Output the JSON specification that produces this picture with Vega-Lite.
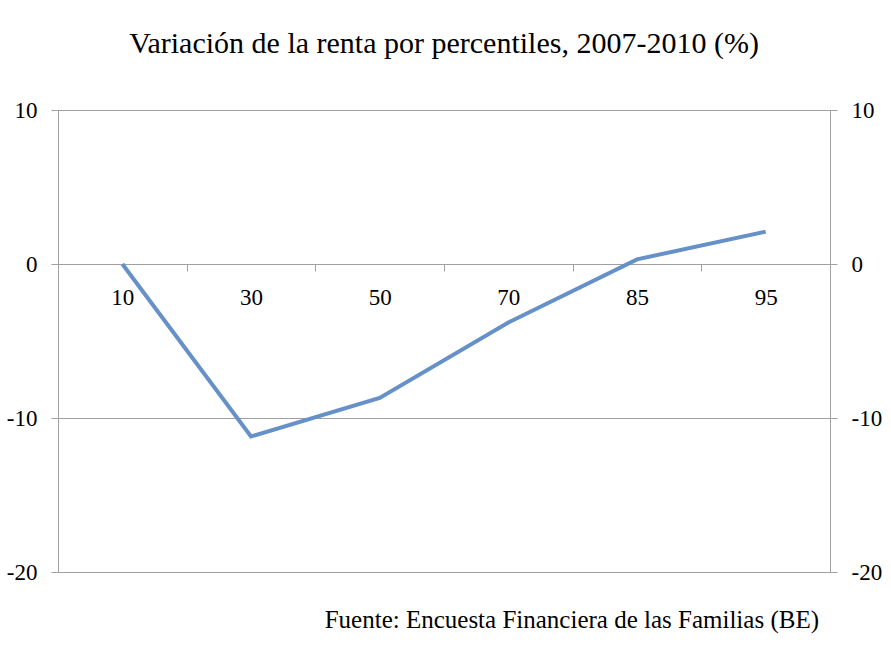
{
  "$schema": "https://vega.github.io/schema/vega-lite/v6.json",
  "background": "white",
  "padding": {"left": 6, "right": 5, "top": 29, "bottom": 5},
  "title": {"text": "Variación de la renta por percentiles, 2007-2010 (%)", "anchor": "middle", "font": "Liberation Serif", "fontSize": 30, "fontWeight": "normal", "color": "black", "offset": 40},
  "config": {"view": {"stroke": null}, "font": "Liberation Serif"},
  "data": {"values": [
    {"percentil": "10", "variacion": 0.0},
    {"percentil": "30", "variacion": -11.2},
    {"percentil": "50", "variacion": -8.7},
    {"percentil": "70", "variacion": -3.8},
    {"percentil": "85", "variacion": 0.3},
    {"percentil": "95", "variacion": 2.1}
  ]},
  "vconcat": [
    {
      "width": 772,
      "height": 462,
      "title": {"text": "Fuente: Encuesta Financiera de las Familias (BE)", "orient": "bottom", "anchor": "end", "frame": "group", "dx": -11, "font": "Liberation Serif", "fontSize": 25, "fontWeight": "normal", "color": "black", "offset": 24},
      "encoding": {
        "x": {"field": "percentil", "type": "ordinal", "sort": null,
          "scale": {"type": "band", "paddingInner": 0, "paddingOuter": 0},
          "axis": {"title": null, "offset": -308, "tickBand": "extent", "domainColor": "#a0a0a0", "tickColor": "#a0a0a0", "tickSize": 7, "labelFontSize": 23, "labelColor": "black", "labelPadding": 15, "labelAngle": 0, "labelFont": "Liberation Serif"}}
      },
      "layer": [
        {
          "mark": {"type": "line", "color": "#6590c8", "strokeWidth": 4},
          "encoding": {
            "y": {"field": "variacion", "type": "quantitative",
              "scale": {"domain": [-20, 10], "nice": false, "zero": false},
              "axis": {"title": null, "orient": "left", "values": [-20, -10, 0, 10], "labelExpr": "'' + datum.value", "grid": true, "gridColor": "#a0a0a0", "domainColor": "#a0a0a0", "tickColor": "#a0a0a0", "tickSize": 7, "labelFontSize": 23, "labelColor": "black", "labelPadding": 14, "labelFont": "Liberation Serif"}}
          }
        },
        {
          "mark": {"type": "line", "strokeOpacity": 0},
          "encoding": {
            "y": {"field": "variacion", "type": "quantitative",
              "axis": {"title": null, "orient": "right", "values": [-20, -10, 0, 10], "labelExpr": "'' + datum.value", "grid": false, "domainColor": "#a0a0a0", "tickColor": "#a0a0a0", "tickSize": 7, "labelFontSize": 23, "labelColor": "black", "labelPadding": 14, "labelFont": "Liberation Serif"}}
          }
        }
      ],
      "resolve": {"axis": {"y": "independent"}}
    }
  ]
}
